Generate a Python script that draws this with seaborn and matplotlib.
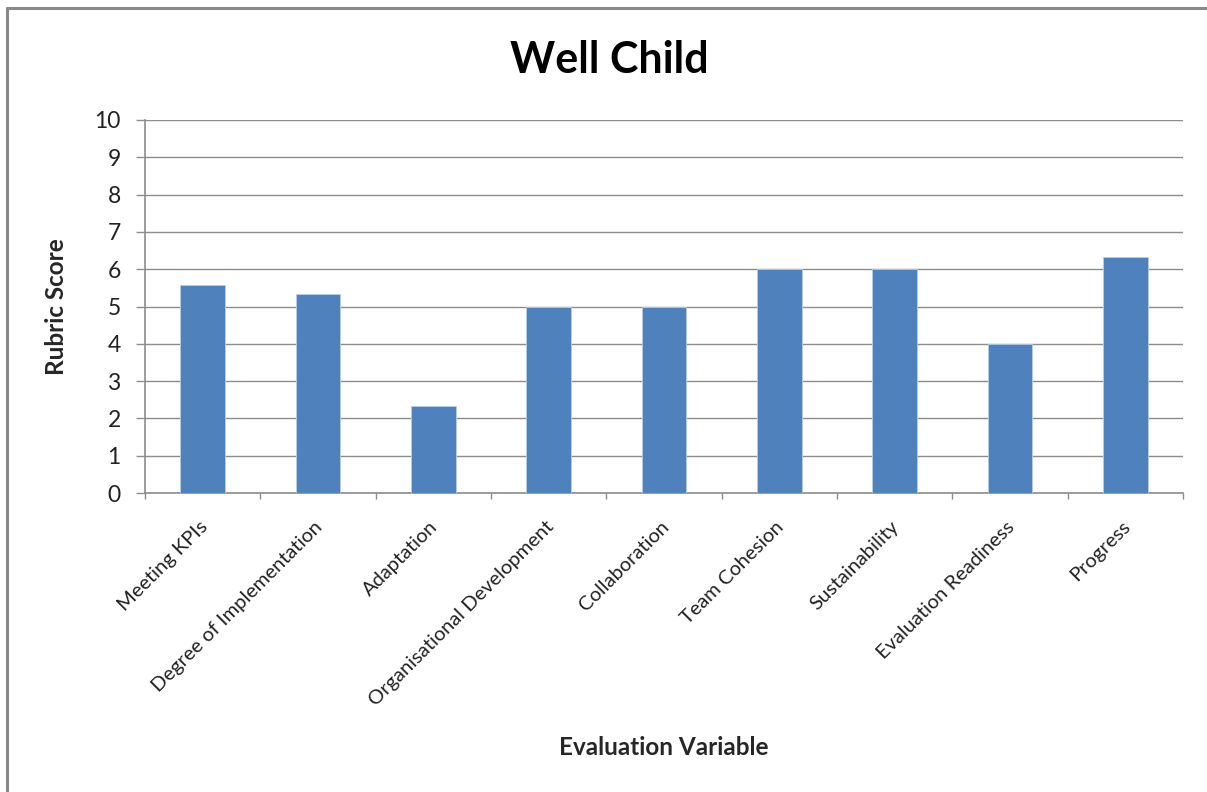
import matplotlib
matplotlib.use("Agg")
import matplotlib.pyplot as plt
from matplotlib.lines import Line2D
import matplotlib.transforms as mtransforms
import seaborn as sns
import pandas as pd
import numpy as np

categories = [
    "Meeting KPIs",
    "Degree of Implementation",
    "Adaptation",
    "Organisational Development",
    "Collaboration",
    "Team Cohesion",
    "Sustainability",
    "Evaluation Readiness",
    "Progress",
]
scores = [5.57, 5.33, 2.33, 5.0, 5.0, 6.0, 6.0, 4.0, 6.33]
y_ticks = list(range(0, 11))

df = pd.DataFrame({"Evaluation Variable": categories, "Rubric Score": scores})

sns.set_theme(style="white")
plt.rcParams["font.family"] = ["Lato", "DejaVu Sans"]

W, H = 1207, 792
fig = plt.figure(figsize=(W / 100, H / 100), dpi=100)
ax = fig.add_axes([145 / W, 1 - 493 / H, (1183 - 145) / W, (493 - 120) / H])

grid_col = "#8c8c8c"
sns.barplot(data=df, x="Evaluation Variable", y="Rubric Score", color="#4F81BD",
            width=0.39, saturation=1, edgecolor="#b9cde5", linewidth=0.6, ax=ax, zorder=3)

ax.set_xlim(-0.5, len(categories) - 0.5)
ax.set_ylim(0, 10)
ax.set_yticks(y_ticks)
ax.set_yticklabels([str(t) for t in y_ticks], fontsize=16.5, color="#222222")
ax.yaxis.grid(True, color=grid_col, linewidth=1.0, zorder=0)
ax.tick_params(axis="y", which="major", left=True, length=6.5, width=1.0, color=grid_col, pad=11)

# category labels at bar centres, tick marks at category boundaries
ax.set_xticks(np.arange(len(categories)))
ax.set_xticklabels(categories, rotation=45, ha="right", va="top",
                   rotation_mode="anchor", fontsize=14.5, color="#222222")
ax.tick_params(axis="x", which="major", length=0, pad=18)
ax.set_xticks(np.arange(-0.5, len(categories)), minor=True)
ax.tick_params(axis="x", which="minor", bottom=True, length=4.5, width=1.0, color=grid_col)
shift = mtransforms.ScaledTranslation(-4 / 100, 0, fig.dpi_scale_trans)
for lbl in ax.get_xticklabels():
    lbl.set_transform(lbl.get_transform() + shift)

for side in ["top", "right"]:
    ax.spines[side].set_visible(False)
for side in ["left", "bottom"]:
    ax.spines[side].set_color(grid_col)
    ax.spines[side].set_linewidth(1.2)

ax.set_xlabel("Evaluation Variable", fontsize=17.5, fontweight="bold")
ax.set_ylabel("Rubric Score", fontsize=17.5, fontweight="bold")
ax.xaxis.set_label_coords(0.5, -(736 - 493) / (493 - 120))
ax.yaxis.set_label_coords(-(145 - 68) / (1183 - 145), 0.5)

fig.text(609 / W, 1 - 60 / H, "Well Child", ha="center", va="center",
         fontsize=31, fontweight="bold", color="#000000")

# chart frame
fig.add_artist(Line2D([7 / W, 7 / W], [0, 1 - 8 / H], transform=fig.transFigure,
                      color="#8a8a8a", linewidth=2.2))
fig.add_artist(Line2D([7 / W, 1], [1 - 8 / H, 1 - 8 / H], transform=fig.transFigure,
                      color="#8a8a8a", linewidth=2.2))

fig.savefig("out.png", dpi=100, facecolor="white")
